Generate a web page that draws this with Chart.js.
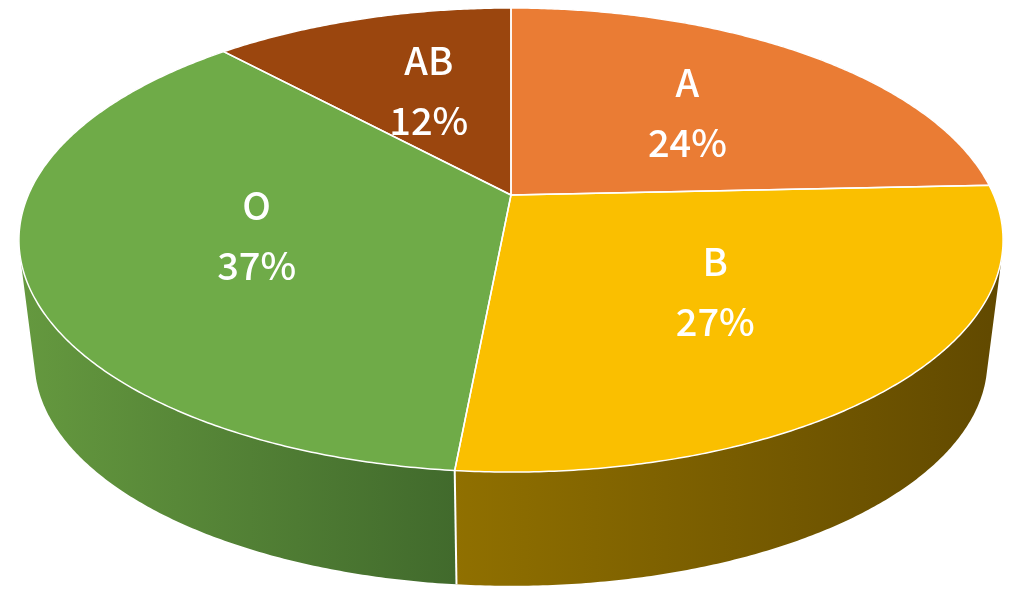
<!DOCTYPE html>
<html>
<head>
<meta charset="utf-8">
<script src="https://cdn.jsdelivr.net/npm/chart.js@4.4.1/dist/chart.umd.min.js"></script>
<style>
  html, body { margin: 0; padding: 0; background: #ffffff; }
  #wrap { width: 1024px; height: 594px; }
</style>
</head>
<body>
<div id="wrap"><canvas id="bloodChart"></canvas></div>
<script>
// Blood type shares (percent)
const bloodTypes = ['A', 'B', 'O', 'AB'];
const shares = [24.3, 27.2, 36.6, 11.9];

// Styles
const topColors = ['#ea7c34', '#fabf00', '#6fab48', '#9b460e'];
const sideColors = [
    ['#a3531f', '#7a3d17'],
    ['#907000', '#614900'],
    ['#65993f', '#416a2c'],
    ['#6e320a', '#572707']
];

// Perspective of the tilted disc
const VIEW = {
    cy: 195,       // projected centre of the top face
    rx: 482.7,     // horizontal radius factor
    ry: 223.3,     // vertical radius factor
    k: 0.194,      // perspective strength
    vanishY: 4050, // vanishing point of the vertical edges
    depth: 0.0318, // thickness as fraction toward the vanishing point
    labelR: 0.55,
    labelShiftX: 6
};

const pie3d = {
    id: 'pie3d',
    beforeDatasetsDraw(chart) {
        const ctx = chart.ctx;
        const arcs = chart.getDatasetMeta(0).data;
        const cx = arcs[0].x - 1;

        const proj = (u, v) => {
            const w = 1 - VIEW.k * v;
            return [cx + VIEW.rx * u / w, VIEW.cy + VIEW.ry * v / w];
        };
        const drop = p => [p[0] + (cx - p[0]) * VIEW.depth, p[1] + (VIEW.vanishY - p[1]) * VIEW.depth];
        const rim = (a0, a1) => {
            const n = Math.max(2, Math.ceil((a1 - a0) * 120));
            const pts = [];
            for (let j = 0; j <= n; j++) {
                const a = a0 + (a1 - a0) * j / n;
                pts.push(proj(Math.cos(a), Math.sin(a)));
            }
            return pts;
        };

        ctx.save();

        // side walls
        arcs.forEach((arc, i) => {
            const top = rim(arc.startAngle, arc.endAngle);
            const bot = top.map(drop);
            ctx.beginPath();
            for (let j = 0; j < top.length - 1; j++) {
                const q = [top[j], top[j + 1], bot[j + 1], bot[j]];
                let area = 0;
                for (let m = 0; m < 4; m++) {
                    const a = q[m], b = q[(m + 1) % 4];
                    area += a[0] * b[1] - b[0] * a[1];
                }
                if (area < 0) q.reverse();
                ctx.moveTo(q[0][0], q[0][1]);
                ctx.lineTo(q[1][0], q[1][1]);
                ctx.lineTo(q[2][0], q[2][1]);
                ctx.lineTo(q[3][0], q[3][1]);
                ctx.closePath();
            }
            const xs = top.map(p => p[0]);
            const g = ctx.createLinearGradient(Math.min(...xs), 0, Math.max(...xs), 0);
            g.addColorStop(0, sideColors[i][0]);
            g.addColorStop(1, sideColors[i][1]);
            ctx.fillStyle = g;
            ctx.fill();
        });

        // white edges where slices meet on the wall
        ctx.strokeStyle = '#ffffff';
        ctx.lineWidth = 2;
        arcs.forEach(arc => {
            const p = proj(Math.cos(arc.startAngle), Math.sin(arc.startAngle));
            const q = drop(p);
            ctx.beginPath();
            ctx.moveTo(p[0], p[1]);
            ctx.lineTo(q[0], q[1]);
            ctx.stroke();
        });

        // top face
        const c = proj(0, 0);
        arcs.forEach((arc, i) => {
            const pts = rim(arc.startAngle, arc.endAngle);
            ctx.beginPath();
            ctx.moveTo(c[0], c[1]);
            pts.forEach(p => ctx.lineTo(p[0], p[1]));
            ctx.closePath();
            ctx.fillStyle = topColors[i];
            ctx.fill();
        });
        ctx.lineWidth = 1.5;
        ctx.lineJoin = 'round';
        arcs.forEach(arc => {
            const pts = rim(arc.startAngle, arc.endAngle);
            ctx.beginPath();
            ctx.moveTo(c[0], c[1]);
            pts.forEach(p => ctx.lineTo(p[0], p[1]));
            ctx.closePath();
            ctx.stroke();
        });

        ctx.restore();
        return false;
    },
    afterDraw(chart) {
        const ctx = chart.ctx;
        const arcs = chart.getDatasetMeta(0).data;
        const cx = arcs[0].x - 1;
        const data = chart.data.datasets[0].data;
        const total = data.reduce((s, v) => s + v, 0);
        ctx.save();
        ctx.fillStyle = '#ffffff';
        ctx.font = "500 38px 'Noto Sans CJK JP', 'Noto Sans', sans-serif";
        ctx.textAlign = 'center';
        ctx.textBaseline = 'middle';
        arcs.forEach((arc, i) => {
            const mid = (arc.startAngle + arc.endAngle) / 2;
            const u = VIEW.labelR * Math.cos(mid);
            const v = VIEW.labelR * Math.sin(mid);
            const w = 1 - VIEW.k * v;
            const x = cx + VIEW.rx * u / w + VIEW.labelShiftX;
            const y = VIEW.cy + VIEW.ry * v / w;
            const pct = Math.round(data[i] / total * 100) + '%';
            ctx.fillText(chart.data.labels[i], x, y - 30);
            ctx.fillText(pct, x, y + 30);
        });
        ctx.restore();
    }
};

new Chart(document.getElementById('bloodChart'), {
    type: 'pie',
    data: {
        labels: bloodTypes,
        datasets: [{
            data: shares,
            backgroundColor: topColors,
            borderWidth: 0
        }]
    },
    options: {
        responsive: true,
        maintainAspectRatio: false,
        animation: false,
        rotation: 0,
        plugins: {
            legend: { display: false },
            tooltip: { enabled: false }
        }
    },
    plugins: [pie3d]
});
</script>
</body>
</html>
